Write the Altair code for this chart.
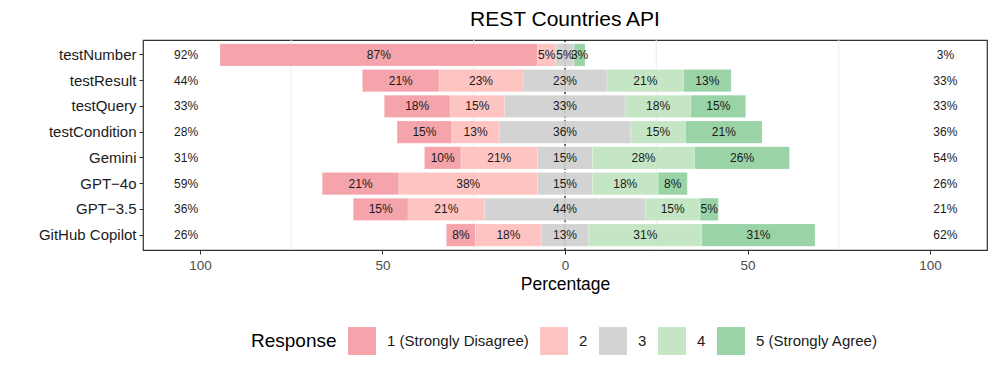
import altair as alt
import pandas as pd

# ---- data ----
items = ["testNumber", "testResult", "testQuery", "testCondition",
         "Gemini", "GPT\u22124o", "GPT\u22123.5", "GitHub Copilot"]
resp1 = [87, 21, 18, 15, 10, 21, 15, 8]
resp2 = [5, 23, 15, 13, 21, 38, 21, 18]
resp3 = [5, 23, 33, 36, 15, 15, 44, 13]
resp4 = [0, 21, 18, 15, 28, 18, 15, 31]
resp5 = [3, 13, 15, 21, 26, 8, 5, 31]
low_pct = [92, 44, 33, 28, 31, 59, 36, 26]
high_pct = [3, 33, 33, 36, 54, 26, 21, 62]
levels = ["1 (Strongly Disagree)", "2", "3", "4", "5 (Strongly Agree)"]
colors = ["#F4A4AA", "#FEC4C2", "#D3D3D3", "#C5E6C5", "#99D3A6"]
axis_ticks = [-100, -50, 0, 50, 100]
grid_vals = [-75, -25, 25, 75]

# ---- build segment table ----
rows = []
for i, it in enumerate(items):
    v = [resp1[i], resp2[i], resp3[i], resp4[i], resp5[i]]
    half = v[2] / 2
    segs = [
        (levels[0], -half - v[1] - v[0], -half - v[1], v[0]),
        (levels[1], -half - v[1], -half, v[1]),
        (levels[2], -half, half, v[2]),
        (levels[3], half, half + v[3], v[3]),
        (levels[4], half + v[3], half + v[3] + v[4], v[4]),
    ]
    for lev, a, b, val in segs:
        mid = 0 if lev == levels[2] else (a + b) / 2
        rows.append({"item": it, "response": lev, "start": a, "end": b,
                     "mid": mid, "label": f"{val}%" if val > 0 else ""})
df = pd.DataFrame(rows)

side = pd.DataFrame({
    "item": items * 2,
    "pos": [-103.8] * len(items) + [104.2] * len(items),
    "label": [f"{p}%" for p in low_pct] + [f"{p}%" for p in high_pct],
})
grid_df = pd.DataFrame({"g": grid_vals})
zero_df = pd.DataFrame({"z": [0]})

FONT = "Liberation Sans"
xscale = alt.Scale(domain=[-115.6, 115.6], nice=False, zero=False)
yscale = alt.Scale(paddingInner=0.13, paddingOuter=0.145)
ysort = items

x_axis = alt.Axis(values=axis_ticks, labelExpr="abs(datum.value)", grid=False,
                  domain=False, tickColor="#333333", tickSize=4, labelColor="#4D4D4D",
                  labelFontSize=13.5, labelFont=FONT, title="Percentage",
                  titleFontSize=17.5, titleFont=FONT, titleFontWeight="normal",
                  titleColor="#000000", labelPadding=4, titlePadding=4)
y_axis = alt.Axis(domain=False, tickColor="#333333", tickSize=4, labelColor="#1A1A1A",
                  labelFontSize=15, labelFont=FONT, title=None, labelPadding=3,
                  grid=False)

grid = alt.Chart(grid_df).mark_rule(color="#EBEBEB", strokeWidth=1).encode(
    x=alt.X("g:Q", scale=xscale, axis=x_axis))

zero_line = alt.Chart(zero_df).mark_rule(color="#000000", strokeWidth=1.1,
                                         strokeDash=[2, 2]).encode(
    x=alt.X("z:Q", scale=xscale, axis=x_axis))

bars = alt.Chart(df).mark_bar(stroke="#FFFFFF", strokeWidth=0.4, strokeOpacity=0.5).encode(
    y=alt.Y("item:N", sort=ysort, scale=yscale, axis=y_axis),
    x=alt.X("start:Q", scale=xscale, axis=x_axis),
    x2="end:Q",
    color=alt.Color("response:N", scale=alt.Scale(domain=levels, range=colors),
                    legend=alt.Legend(
                        title="Response", orient="none", direction="horizontal",
                        legendX=108, legendY=287, titleOrient="left",
                        titleFontSize=19, titleFont=FONT, titleFontWeight="normal",
                        titleColor="#000000", titlePadding=11, titleBaseline="middle",
                        labelFontSize=15, labelFont=FONT, labelColor="#1A1A1A",
                        symbolType="square", symbolSize=780, symbolStrokeWidth=0,
                        symbolOpacity=1, labelOffset=11, columnPadding=11,
                        columns=5)),
    order=alt.Order("response:N"),
)

zero_faint = alt.Chart(zero_df).mark_rule(color="#000000", strokeWidth=1, opacity=0.1).encode(
    x=alt.X("z:Q", scale=xscale, axis=x_axis))

bar_text = alt.Chart(df).mark_text(fontSize=12, font=FONT, color="#1A1A1A").encode(
    y=alt.Y("item:N", sort=ysort, scale=yscale, axis=y_axis),
    x=alt.X("mid:Q", scale=xscale, axis=x_axis),
    text="label:N",
)

side_text = alt.Chart(side).mark_text(fontSize=12, font=FONT, color="#1A1A1A").encode(
    y=alt.Y("item:N", sort=ysort, scale=yscale, axis=y_axis),
    x=alt.X("pos:Q", scale=xscale, axis=x_axis),
    text="label:N",
)

chart = alt.layer(grid, zero_line, bars, zero_faint, bar_text, side_text).properties(
    width=844, height=210,
    title=alt.TitleParams("REST Countries API", fontSize=21, font=FONT,
                          fontWeight="normal", color="#000000", anchor="middle",
                          frame="group", offset=9),
    autosize=alt.AutoSizeParams(type="none"),
    padding={"left": 135, "top": 32, "right": 2, "bottom": 110},
).configure_view(stroke="#333333", strokeWidth=1.2)

chart.save("out.html", embed_options={"renderer": "svg", "actions": False})
